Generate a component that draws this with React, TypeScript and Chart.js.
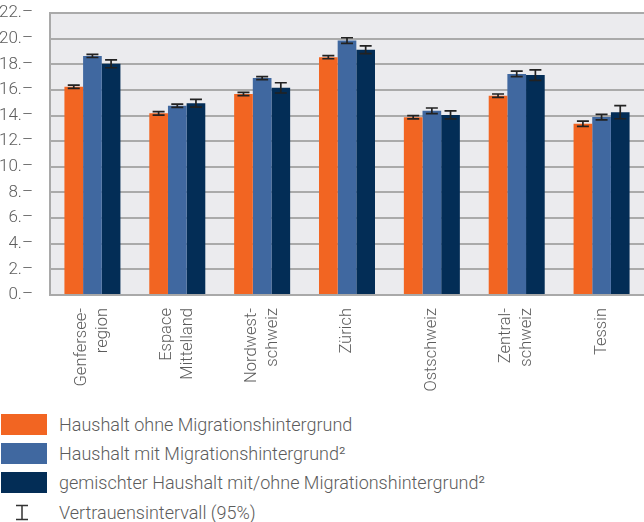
import React, { useEffect, useRef } from "react";
import { Chart, registerables } from "chart.js";

Chart.register(...registerables);

const categories: string[][] = [
  ["Genfersee-", "region"],
  ["Espace", "Mittelland"],
  ["Nordwest-", "schweiz"],
  ["Zürich"],
  ["Ostschweiz"],
  ["Zentral-", "schweiz"],
  ["Tessin"],
];

const seriesNames = [
  "Haushalt ohne Migrationshintergrund",
  "Haushalt mit Migrationshintergrund²",
  "gemischter Haushalt mit/ohne Migrationshintergrund²",
];

const ohne = [16.25, 14.17, 15.68, 18.55, 13.87, 15.55, 13.36];
const mit = [18.65, 14.76, 16.92, 19.85, 14.37, 17.25, 13.88];
const gemischt = [18.04, 14.96, 16.16, 19.13, 14.05, 17.16, 14.26];

const ohneCI = [0.13, 0.13, 0.13, 0.12, 0.13, 0.13, 0.21];
const mitCI = [0.12, 0.13, 0.12, 0.22, 0.22, 0.22, 0.21];
const gemischtCI = [0.31, 0.3, 0.4, 0.3, 0.31, 0.41, 0.51];

const yTicks = [0, 2, 4, 6, 8, 10, 12, 14, 16, 18, 20, 22];

const colors = ["#f26522", "#4068a0", "#032d56"];
const legendLabelCI = "Vertrauensintervall (95%)";

const values = [ohne, mit, gemischt];
const cis = [ohneCI, mitCI, gemischtCI];

const labelColor = "#5c5c5c";
const fontFamily = "Roboto, 'Noto Sans', sans-serif";

const bgPlugin = {
  id: "plotBg",
  beforeDraw(chart: any) {
    const { ctx, chartArea } = chart;
    ctx.save();
    ctx.fillStyle = "#ebebee";
    ctx.fillRect(chartArea.left, chartArea.top, chartArea.right - chartArea.left, chartArea.bottom - chartArea.top);
    ctx.restore();
  },
};

const errorPlugin = {
  id: "errorBars",
  afterDatasetsDraw(chart: any) {
    const { ctx } = chart;
    const yScale = chart.scales.y;
    ctx.save();
    ctx.strokeStyle = "#222222";
    ctx.lineWidth = 1.7;
    chart.data.datasets.forEach((ds: any, i: number) => {
      const meta = chart.getDatasetMeta(i);
      meta.data.forEach((bar: any, j: number) => {
        const v = values[i][j];
        const e = cis[i][j];
        const x = bar.x;
        const yLo = yScale.getPixelForValue(v - e);
        const yHi = yScale.getPixelForValue(v + e);
        const half = 6;
        ctx.beginPath();
        ctx.moveTo(x, yLo);
        ctx.lineTo(x, yHi);
        ctx.moveTo(x - half, yLo);
        ctx.lineTo(x + half, yLo);
        ctx.moveTo(x - half, yHi);
        ctx.lineTo(x + half, yHi);
        ctx.stroke();
      });
    });
    ctx.restore();
  },
};

const xLabelPlugin = {
  id: "xLabels",
  afterDraw(chart: any) {
    const { ctx } = chart;
    const xs = chart.scales.x;
    const lh = 21;
    const y0 = xs.top + 13;
    ctx.save();
    ctx.fillStyle = labelColor;
    ctx.font = `300 16.5px ${fontFamily}`;
    ctx.textAlign = "right";
    ctx.textBaseline = "middle";
    categories.forEach((lines, i) => {
      const px = xs.getPixelForTick(i);
      const n = lines.length;
      lines.forEach((line, k) => {
        const cx = px + (k - (n - 1) / 2) * lh;
        ctx.save();
        ctx.translate(cx, y0);
        ctx.rotate(-Math.PI / 2);
        ctx.fillText(line, 0, 0);
        ctx.restore();
      });
    });
    ctx.restore();
  },
};

export default function App() {
  const ref = useRef<HTMLCanvasElement | null>(null);

  useEffect(() => {
    document.body.style.margin = "0";
    if (!ref.current) return;
    const chart = new Chart(ref.current, {
      type: "bar",
      data: {
        labels: categories.map((c) => c.join(" ")),
        datasets: values.map((d, i) => ({
          label: seriesNames[i],
          data: d,
          backgroundColor: colors[i],
          borderWidth: 0,
          categoryPercentage: 0.66,
          barPercentage: 1,
        })),
      },
      options: {
        animation: false,
        responsive: false,
        layout: { padding: { top: 13, left: 0, right: 0, bottom: 0 } },
        plugins: {
          legend: { display: false },
          tooltip: { enabled: false },
        },
        scales: {
          x: {
            grid: { display: false, drawTicks: false },
            border: { display: true, color: "#a9a9a9", width: 2 },
            ticks: { display: false },
            afterFit: (s: any) => {
              s.height = 105;
              s.paddingLeft = 0;
              s.paddingRight = 0;
            },
          },
          y: {
            min: 0,
            max: 22,
            afterBuildTicks: (s: any) => {
              s.ticks = yTicks.map((v) => ({ value: v }));
            },
            grid: { color: "#aaaaaa", lineWidth: 2, drawTicks: false },
            border: { display: true, color: "#a9a9a9", width: 2 },
            ticks: {
              padding: 17,
              color: labelColor,
              font: { family: fontFamily, size: 17, weight: "300" },
              callback: (v: any) => `${v}.–`,
            },
            afterFit: (s: any) => {
              s.width = 50;
              s.paddingTop = 0;
              s.paddingBottom = 0;
            },
          },
        },
      },
      plugins: [bgPlugin, errorPlugin, xLabelPlugin],
    });
    return () => chart.destroy();
  }, []);

  const textStyle: React.CSSProperties = {
    position: "absolute",
    left: 59,
    fontFamily,
    fontWeight: 300,
    fontSize: 18,
    color: labelColor,
    lineHeight: "21px",
    whiteSpace: "nowrap",
  };

  return (
    <div style={{ position: "relative", width: 644, height: 522, overflow: "hidden" }}>
      <canvas ref={ref} width={644} height={400} style={{ display: "block" }} />
      {seriesNames.map((name, i) => (
        <React.Fragment key={name}>
          <div
            style={{
              position: "absolute",
              left: 1,
              top: 414 + i * 29,
              width: 46,
              height: 21,
              background: colors[i],
            }}
          />
          <div style={{ ...textStyle, top: 414 + i * 29 }}>{name}</div>
        </React.Fragment>
      ))}
      <svg style={{ position: "absolute", left: 14, top: 504 }} width={16} height={17}>
        <path d="M2 1.5 H14 M8 1.5 V15.5 M2 15.5 H14" stroke="#333" strokeWidth={1.5} fill="none" />
      </svg>
      <div style={{ ...textStyle, top: 502 }}>{legendLabelCI}</div>
    </div>
  );
}
